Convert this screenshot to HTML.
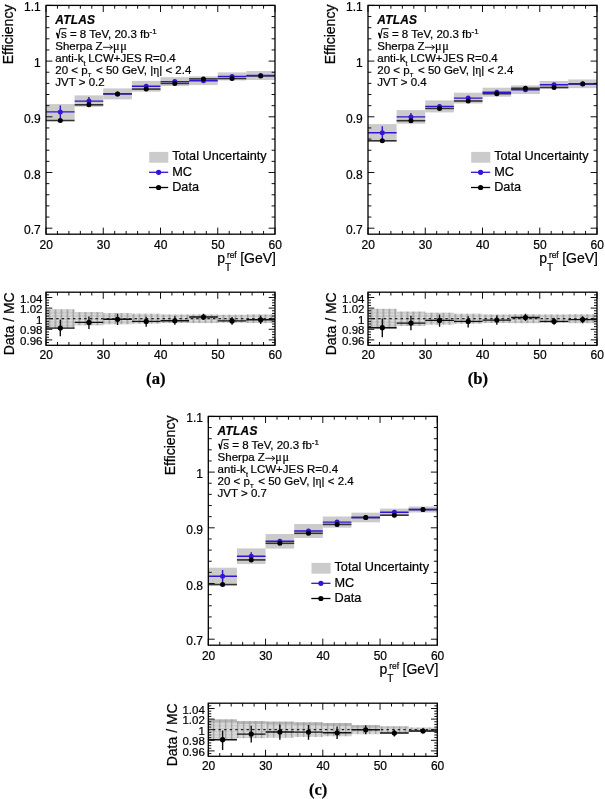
<!DOCTYPE html>
<html><head><meta charset="utf-8"><title>Efficiency</title>
<style>
html,body{margin:0;padding:0;background:#fff;}
body{width:605px;height:799px;overflow:hidden;}
svg{display:block;font-family:"Liberation Sans", sans-serif;filter:blur(0.3px);}
text{stroke:#000;stroke-width:0.22px;}
</style></head><body>
<svg width="605" height="799" viewBox="0 0 605 799" fill="#000">
<defs>
<pattern id="hatchA" patternUnits="userSpaceOnUse" x="0.6" y="0.2" width="6" height="3.2">
<rect width="6" height="3.2" fill="#cacaca"/>
<rect x="0" y="0" width="1.6" height="3.2" fill="#9c9c9c"/>
<rect x="1.6" y="0" width="4.4" height="1" fill="#e0e0e0"/>
</pattern>
<pattern id="hatchB" patternUnits="userSpaceOnUse" x="4.55" y="0.2" width="6" height="3.2">
<rect width="6" height="3.2" fill="#cacaca"/>
<rect x="0" y="0" width="1.6" height="3.2" fill="#9c9c9c"/>
<rect x="1.6" y="0" width="4.4" height="1" fill="#e0e0e0"/>
</pattern>
<pattern id="hatchC" patternUnits="userSpaceOnUse" x="2.9" y="0.6" width="6" height="3">
<rect width="6" height="3" fill="#cdcdcd"/>
<rect x="0" y="0" width="1.5" height="3" fill="#a4a4a4"/>
<rect x="1.5" y="0" width="4.5" height="0.9" fill="#e4e4e4"/>
</pattern>
<pattern id="hatchCtop" patternUnits="userSpaceOnUse" x="2.9" y="0" width="6" height="3">
<rect width="6" height="3" fill="#b4b4b4"/>
<rect x="0" y="0" width="1.5" height="3" fill="#a0a0a0"/>
</pattern>
</defs>
<rect x="46" y="104.1" width="28.62" height="15.6" fill="#cbcbcb"/>
<rect x="74.62" y="95.4" width="28.62" height="11.4" fill="#cbcbcb"/>
<rect x="103.25" y="88.4" width="28.62" height="11" fill="#cbcbcb"/>
<rect x="131.88" y="80.9" width="28.62" height="10.8" fill="#cbcbcb"/>
<rect x="160.5" y="77.2" width="28.62" height="8.8" fill="#cbcbcb"/>
<rect x="189.12" y="76.3" width="28.62" height="8.8" fill="#cbcbcb"/>
<rect x="217.75" y="72.4" width="28.62" height="8" fill="#cbcbcb"/>
<rect x="246.38" y="71" width="28.62" height="9" fill="#cbcbcb"/>
<path d="M46 120.5H74.62" stroke="#333" stroke-width="1.6"/>
<path d="M46 111.9H74.62M60.31 105.4V118.4" stroke="#3812d4" stroke-width="1.4"/>
<circle cx="60.31" cy="111.9" r="2.5" fill="#3812d4"/>
<circle cx="60.31" cy="120.5" r="2.5" fill="#000"/>
<path d="M74.62 104.8H103.25" stroke="#333" stroke-width="1.6"/>
<path d="M74.62 101.1H103.25M88.94 97.1V105.1" stroke="#3812d4" stroke-width="1.4"/>
<circle cx="88.94" cy="101.1" r="2.5" fill="#3812d4"/>
<circle cx="88.94" cy="104.8" r="2.5" fill="#000"/>
<path d="M103.25 93.9H131.88" stroke="#333" stroke-width="1.6"/>
<path d="M103.25 93.9H131.88M117.56 91.9V95.9" stroke="#3812d4" stroke-width="1.4"/>
<circle cx="117.56" cy="93.9" r="2.5" fill="#3812d4"/>
<circle cx="117.56" cy="93.9" r="2.5" fill="#000"/>
<path d="M131.88 89.1H160.5" stroke="#333" stroke-width="1.6"/>
<path d="M131.88 86.3H160.5M146.19 84.8V87.8" stroke="#3812d4" stroke-width="1.4"/>
<circle cx="146.19" cy="86.3" r="2.5" fill="#3812d4"/>
<circle cx="146.19" cy="89.1" r="2.5" fill="#000"/>
<path d="M160.5 83.4H189.12" stroke="#333" stroke-width="1.6"/>
<path d="M160.5 81.6H189.12M174.81 80.6V82.6" stroke="#3812d4" stroke-width="1.4"/>
<circle cx="174.81" cy="81.6" r="2.5" fill="#3812d4"/>
<circle cx="174.81" cy="83.4" r="2.5" fill="#000"/>
<path d="M189.12 78.9H217.75" stroke="#333" stroke-width="1.6"/>
<path d="M189.12 80.7H217.75M203.44 79.7V81.7" stroke="#3812d4" stroke-width="1.4"/>
<circle cx="203.44" cy="80.7" r="2.5" fill="#3812d4"/>
<circle cx="203.44" cy="78.9" r="2.5" fill="#000"/>
<path d="M217.75 78.5H246.38" stroke="#333" stroke-width="1.6"/>
<path d="M217.75 76.4H246.38M232.06 75.4V77.4" stroke="#3812d4" stroke-width="1.4"/>
<circle cx="232.06" cy="76.4" r="2.5" fill="#3812d4"/>
<circle cx="232.06" cy="78.5" r="2.5" fill="#000"/>
<path d="M246.38 75.9H275" stroke="#333" stroke-width="1.6"/>
<path d="M246.38 75.5H275M260.69 74.5V76.5" stroke="#3812d4" stroke-width="1.4"/>
<circle cx="260.69" cy="75.5" r="2.5" fill="#3812d4"/>
<circle cx="260.69" cy="75.9" r="2.5" fill="#000"/>
<rect x="46" y="309.3" width="28.62" height="18.8" fill="url(#hatchA)"/>
<rect x="74.62" y="312.1" width="28.62" height="13.2" fill="url(#hatchA)"/>
<rect x="103.25" y="313.1" width="28.62" height="11.2" fill="url(#hatchA)"/>
<rect x="131.88" y="313.7" width="28.62" height="10" fill="url(#hatchA)"/>
<rect x="160.5" y="314.4" width="28.62" height="8.6" fill="url(#hatchA)"/>
<rect x="189.12" y="314.35" width="28.62" height="8.7" fill="url(#hatchA)"/>
<rect x="217.75" y="314.7" width="28.62" height="8" fill="url(#hatchA)"/>
<rect x="246.38" y="314.35" width="28.62" height="8.7" fill="url(#hatchA)"/>
<path d="M46 318.7H275" stroke="#222" stroke-width="1.2" stroke-dasharray="2.4 3.2" stroke-dashoffset="1"/>
<path d="M46 328.1H74.62M60.31 319.8V336.3" stroke="#111" stroke-width="1.4"/>
<circle cx="60.31" cy="328.1" r="2.6" fill="#000"/>
<path d="M74.62 322.4H103.25M88.94 316.5V329" stroke="#111" stroke-width="1.4"/>
<circle cx="88.94" cy="322.4" r="2.6" fill="#000"/>
<path d="M103.25 319.3H131.88M117.56 313.8V325" stroke="#111" stroke-width="1.4"/>
<circle cx="117.56" cy="319.3" r="2.6" fill="#000"/>
<path d="M131.88 321.4H160.5M146.19 316.8V326.7" stroke="#111" stroke-width="1.4"/>
<circle cx="146.19" cy="321.4" r="2.6" fill="#000"/>
<path d="M160.5 320.8H189.12M174.81 316.2V324.8" stroke="#111" stroke-width="1.4"/>
<circle cx="174.81" cy="320.8" r="2.6" fill="#000"/>
<path d="M189.12 317H217.75M203.44 313.8V320.1" stroke="#111" stroke-width="1.4"/>
<circle cx="203.44" cy="317" r="2.6" fill="#000"/>
<path d="M217.75 320.9H246.38M232.06 317V324.8" stroke="#111" stroke-width="1.4"/>
<circle cx="232.06" cy="320.9" r="2.6" fill="#000"/>
<path d="M246.38 319.8H275M260.69 315.4V324" stroke="#111" stroke-width="1.4"/>
<circle cx="260.69" cy="319.8" r="2.6" fill="#000"/>
<path d="M46 228.2h6.4 M275 228.2h-6.4 M46 217.06h3.4 M275 217.06h-3.4 M46 205.92h3.4 M275 205.92h-3.4 M46 194.78h3.4 M275 194.78h-3.4 M46 183.64h3.4 M275 183.64h-3.4 M46 172.5h6.4 M275 172.5h-6.4 M46 161.36h3.4 M275 161.36h-3.4 M46 150.22h3.4 M275 150.22h-3.4 M46 139.08h3.4 M275 139.08h-3.4 M46 127.94h3.4 M275 127.94h-3.4 M46 116.8h6.4 M275 116.8h-6.4 M46 105.66h3.4 M275 105.66h-3.4 M46 94.52h3.4 M275 94.52h-3.4 M46 83.38h3.4 M275 83.38h-3.4 M46 72.24h3.4 M275 72.24h-3.4 M46 61.1h6.4 M275 61.1h-6.4 M46 49.96h3.4 M275 49.96h-3.4 M46 38.82h3.4 M275 38.82h-3.4 M46 27.68h3.4 M275 27.68h-3.4 M46 16.54h3.4 M275 16.54h-3.4 M46 5.4h6.4 M275 5.4h-6.4 M46 234.2v-6.6 M46 5.4v6.6 M57.45 234.2v-3.3 M57.45 5.4v3.3 M68.9 234.2v-3.3 M68.9 5.4v3.3 M80.35 234.2v-3.3 M80.35 5.4v3.3 M91.8 234.2v-3.3 M91.8 5.4v3.3 M103.25 234.2v-6.6 M103.25 5.4v6.6 M114.7 234.2v-3.3 M114.7 5.4v3.3 M126.15 234.2v-3.3 M126.15 5.4v3.3 M137.6 234.2v-3.3 M137.6 5.4v3.3 M149.05 234.2v-3.3 M149.05 5.4v3.3 M160.5 234.2v-6.6 M160.5 5.4v6.6 M171.95 234.2v-3.3 M171.95 5.4v3.3 M183.4 234.2v-3.3 M183.4 5.4v3.3 M194.85 234.2v-3.3 M194.85 5.4v3.3 M206.3 234.2v-3.3 M206.3 5.4v3.3 M217.75 234.2v-6.6 M217.75 5.4v6.6 M229.2 234.2v-3.3 M229.2 5.4v3.3 M240.65 234.2v-3.3 M240.65 5.4v3.3 M252.1 234.2v-3.3 M252.1 5.4v3.3 M263.55 234.2v-3.3 M263.55 5.4v3.3 M275 234.2v-6.6 M275 5.4v6.6" stroke="#111" stroke-width="1.0" fill="none"/>
<rect x="46" y="5.4" width="229" height="228.8" fill="none" stroke="#000" stroke-width="1.3"/>
<path d="M46 342.55h3 M275 342.55h-3 M46 339.9h6.3 M275 339.9h-6.3 M46 337.25h3 M275 337.25h-3 M46 334.6h3 M275 334.6h-3 M46 331.95h3 M275 331.95h-3 M46 329.3h6.3 M275 329.3h-6.3 M46 326.65h3 M275 326.65h-3 M46 324h3 M275 324h-3 M46 321.35h3 M275 321.35h-3 M46 318.7h6.3 M275 318.7h-6.3 M46 316.05h3 M275 316.05h-3 M46 313.4h3 M275 313.4h-3 M46 310.75h3 M275 310.75h-3 M46 308.1h6.3 M275 308.1h-6.3 M46 305.45h3 M275 305.45h-3 M46 302.8h3 M275 302.8h-3 M46 300.15h3 M275 300.15h-3 M46 297.5h6.3 M275 297.5h-6.3 M46 294.85h3 M275 294.85h-3 M46 345.3v-6.6 M46 292.2v6.6 M57.45 345.3v-3.3 M57.45 292.2v3.3 M68.9 345.3v-3.3 M68.9 292.2v3.3 M80.35 345.3v-3.3 M80.35 292.2v3.3 M91.8 345.3v-3.3 M91.8 292.2v3.3 M103.25 345.3v-6.6 M103.25 292.2v6.6 M114.7 345.3v-3.3 M114.7 292.2v3.3 M126.15 345.3v-3.3 M126.15 292.2v3.3 M137.6 345.3v-3.3 M137.6 292.2v3.3 M149.05 345.3v-3.3 M149.05 292.2v3.3 M160.5 345.3v-6.6 M160.5 292.2v6.6 M171.95 345.3v-3.3 M171.95 292.2v3.3 M183.4 345.3v-3.3 M183.4 292.2v3.3 M194.85 345.3v-3.3 M194.85 292.2v3.3 M206.3 345.3v-3.3 M206.3 292.2v3.3 M217.75 345.3v-6.6 M217.75 292.2v6.6 M229.2 345.3v-3.3 M229.2 292.2v3.3 M240.65 345.3v-3.3 M240.65 292.2v3.3 M252.1 345.3v-3.3 M252.1 292.2v3.3 M263.55 345.3v-3.3 M263.55 292.2v3.3 M275 345.3v-6.6 M275 292.2v6.6" stroke="#111" stroke-width="1.0" fill="none"/>
<rect x="46" y="292.2" width="229" height="53.1" fill="none" stroke="#000" stroke-width="1.3"/>
<text x="40.7" y="11.4" font-size="12" text-anchor="end">1.1</text>
<text x="40.7" y="67.1" font-size="12" text-anchor="end">1</text>
<text x="40.7" y="122.8" font-size="12" text-anchor="end">0.9</text>
<text x="40.7" y="178.5" font-size="12" text-anchor="end">0.8</text>
<text x="40.7" y="234.2" font-size="12" text-anchor="end">0.7</text>
<text x="46.3" y="248.7" font-size="12" text-anchor="middle">20</text>
<text x="103.55" y="248.7" font-size="12" text-anchor="middle">30</text>
<text x="160.8" y="248.7" font-size="12" text-anchor="middle">40</text>
<text x="218.05" y="248.7" font-size="12" text-anchor="middle">50</text>
<text x="275.3" y="248.7" font-size="12" text-anchor="middle">60</text>
<text x="42.5" y="302.5" font-size="11.5" text-anchor="end">1.04</text>
<text x="42.5" y="313.1" font-size="11.5" text-anchor="end">1.02</text>
<text x="42.5" y="323.7" font-size="11.5" text-anchor="end">1</text>
<text x="42.5" y="334.3" font-size="11.5" text-anchor="end">0.98</text>
<text x="42.5" y="344.9" font-size="11.5" text-anchor="end">0.96</text>
<text x="46.3" y="359.4" font-size="12" text-anchor="middle">20</text>
<text x="103.55" y="359.4" font-size="12" text-anchor="middle">30</text>
<text x="160.8" y="359.4" font-size="12" text-anchor="middle">40</text>
<text x="218.05" y="359.4" font-size="12" text-anchor="middle">50</text>
<text x="275.3" y="359.4" font-size="12" text-anchor="middle">60</text>
<text transform="translate(12.8 4.6) rotate(-90)" font-size="14" text-anchor="end">Efficiency</text>
<text transform="translate(14.4 292.3) rotate(-90)" font-size="14" text-anchor="end">Data / MC</text>
<text x="217.3" y="263.2" font-size="14">p</text>
<text x="226.9" y="257.7" font-size="8.4">ref</text>
<text x="225" y="271.4" font-size="10">T</text>
<text x="276" y="263.4" font-size="14" text-anchor="end">[GeV]</text>
<text x="55.3" y="23.5" font-size="11.9" font-weight="bold" font-style="italic" letter-spacing="0.25">ATLAS</text>
<path d="M56.5 32.6L58.2 38.3L60.1 28.7H66.6" stroke="#000" stroke-width="1.0" fill="none" stroke-linejoin="miter"/>
<path d="M56.9 33L58.3 38" stroke="#000" stroke-width="1.5" fill="none"/>
<text x="61" y="38.2" font-size="11.5">s = 8 TeV, 20.3 fb<tspan dy="-4.6" font-size="8">-1</tspan></text>
<text x="55.3" y="50.1" font-size="11.5">Sherpa Z</text>
<path d="M103 47.3H112.2" stroke="#000" stroke-width="0.9"/>
<path d="M109.6 45L112.6 47.3L109.6 49.6" stroke="#000" stroke-width="0.9" fill="none"/>
<text x="113" y="50.2" font-size="12.2" letter-spacing="0.6" font-family='"Liberation Serif", serif'>μμ</text>
<text x="55.3" y="62.2" font-size="11.5">anti-k</text>
<text x="83.6" y="66" font-size="7">t</text>
<text x="88.2" y="62.2" font-size="11.5">LCW+JES R=0.4</text>
<text x="55.3" y="74.2" font-size="11.5">20 &lt; p</text>
<text x="87.8" y="77" font-size="6">T</text>
<text x="96" y="74.2" font-size="11.5">&lt; 50 GeV, |<tspan font-family='"Liberation Serif", serif'>η</tspan>| &lt; 2.4</text>
<text x="55.3" y="86" font-size="11.5">JVT &gt; 0.2</text>
<rect x="149.2" y="151.9" width="19.1" height="10.8" fill="#cbcbcb"/>
<text x="172.2" y="160.2" font-size="12.7">Total Uncertainty</text>
<path d="M149 172.3h19.2" stroke="#3812d4" stroke-width="1.3"/>
<circle cx="158.6" cy="172.3" r="2.6" fill="#3812d4"/>
<text x="172.2" y="175.5" font-size="12.7">MC</text>
<path d="M149 187.5h19.2" stroke="#000" stroke-width="1.3"/>
<circle cx="158.6" cy="187.5" r="2.6" fill="#000"/>
<text x="172.2" y="190.7" font-size="12.7">Data</text>
<text x="155.8" y="384.4" font-size="16.6" font-weight="bold" text-anchor="middle" font-family='"Liberation Serif", serif'>(a)</text>
<rect x="368" y="124.1" width="28.62" height="17.2" fill="#cbcbcb"/>
<rect x="396.62" y="110.1" width="28.62" height="13.6" fill="#cbcbcb"/>
<rect x="425.25" y="100.4" width="28.62" height="12" fill="#cbcbcb"/>
<rect x="453.88" y="92.7" width="28.62" height="10.8" fill="#cbcbcb"/>
<rect x="482.5" y="87.7" width="28.62" height="9" fill="#cbcbcb"/>
<rect x="511.12" y="85.35" width="28.62" height="8.7" fill="#cbcbcb"/>
<rect x="539.75" y="81" width="28.62" height="7.6" fill="#cbcbcb"/>
<rect x="568.38" y="79.45" width="28.62" height="8.7" fill="#cbcbcb"/>
<path d="M368 140.8H396.62" stroke="#333" stroke-width="1.6"/>
<path d="M368 132.7H396.62M382.31 126.2V139.2" stroke="#3812d4" stroke-width="1.4"/>
<circle cx="382.31" cy="132.7" r="2.5" fill="#3812d4"/>
<circle cx="382.31" cy="140.8" r="2.5" fill="#000"/>
<path d="M396.62 120.7H425.25" stroke="#333" stroke-width="1.6"/>
<path d="M396.62 116.9H425.25M410.94 112.9V120.9" stroke="#3812d4" stroke-width="1.4"/>
<circle cx="410.94" cy="116.9" r="2.5" fill="#3812d4"/>
<circle cx="410.94" cy="120.7" r="2.5" fill="#000"/>
<path d="M425.25 108.4H453.88" stroke="#333" stroke-width="1.6"/>
<path d="M425.25 106.4H453.88M439.56 104.4V108.4" stroke="#3812d4" stroke-width="1.4"/>
<circle cx="439.56" cy="106.4" r="2.5" fill="#3812d4"/>
<circle cx="439.56" cy="108.4" r="2.5" fill="#000"/>
<path d="M453.88 101H482.5" stroke="#333" stroke-width="1.6"/>
<path d="M453.88 98.1H482.5M468.19 96.6V99.6" stroke="#3812d4" stroke-width="1.4"/>
<circle cx="468.19" cy="98.1" r="2.5" fill="#3812d4"/>
<circle cx="468.19" cy="101" r="2.5" fill="#000"/>
<path d="M482.5 93.7H511.12" stroke="#333" stroke-width="1.6"/>
<path d="M482.5 92.2H511.12M496.81 91.2V93.2" stroke="#3812d4" stroke-width="1.4"/>
<circle cx="496.81" cy="92.2" r="2.5" fill="#3812d4"/>
<circle cx="496.81" cy="93.7" r="2.5" fill="#000"/>
<path d="M511.12 88.3H539.75" stroke="#333" stroke-width="1.6"/>
<path d="M511.12 89.7H539.75M525.44 88.7V90.7" stroke="#3812d4" stroke-width="1.4"/>
<circle cx="525.44" cy="89.7" r="2.5" fill="#3812d4"/>
<circle cx="525.44" cy="88.3" r="2.5" fill="#000"/>
<path d="M539.75 87.5H568.38" stroke="#333" stroke-width="1.6"/>
<path d="M539.75 84.8H568.38M554.06 83.8V85.8" stroke="#3812d4" stroke-width="1.4"/>
<circle cx="554.06" cy="84.8" r="2.5" fill="#3812d4"/>
<circle cx="554.06" cy="87.5" r="2.5" fill="#000"/>
<path d="M568.38 84.1H597" stroke="#333" stroke-width="1.6"/>
<path d="M568.38 83.8H597M582.69 82.8V84.8" stroke="#3812d4" stroke-width="1.4"/>
<circle cx="582.69" cy="83.8" r="2.5" fill="#3812d4"/>
<circle cx="582.69" cy="84.1" r="2.5" fill="#000"/>
<rect x="368" y="308.8" width="28.62" height="19.8" fill="url(#hatchB)"/>
<rect x="396.62" y="311.5" width="28.62" height="14.4" fill="url(#hatchB)"/>
<rect x="425.25" y="312.7" width="28.62" height="12" fill="url(#hatchB)"/>
<rect x="453.88" y="313.7" width="28.62" height="10" fill="url(#hatchB)"/>
<rect x="482.5" y="314.4" width="28.62" height="8.6" fill="url(#hatchB)"/>
<rect x="511.12" y="314.2" width="28.62" height="9" fill="url(#hatchB)"/>
<rect x="539.75" y="314.4" width="28.62" height="8.6" fill="url(#hatchB)"/>
<rect x="568.38" y="314.2" width="28.62" height="9" fill="url(#hatchB)"/>
<path d="M368 318.7H597" stroke="#222" stroke-width="1.2" stroke-dasharray="2.4 3.2" stroke-dashoffset="1"/>
<path d="M368 327.7H396.62M382.31 318.4V337.3" stroke="#111" stroke-width="1.4"/>
<circle cx="382.31" cy="327.7" r="2.6" fill="#000"/>
<path d="M396.62 323.1H425.25M410.94 315.8V330.3" stroke="#111" stroke-width="1.4"/>
<circle cx="410.94" cy="323.1" r="2.6" fill="#000"/>
<path d="M425.25 320.4H453.88M439.56 314.5V326.8" stroke="#111" stroke-width="1.4"/>
<circle cx="439.56" cy="320.4" r="2.6" fill="#000"/>
<path d="M453.88 321.4H482.5M468.19 316.2V327.4" stroke="#111" stroke-width="1.4"/>
<circle cx="468.19" cy="321.4" r="2.6" fill="#000"/>
<path d="M482.5 320.1H511.12M496.81 315.5V324.8" stroke="#111" stroke-width="1.4"/>
<circle cx="496.81" cy="320.1" r="2.6" fill="#000"/>
<path d="M511.12 317.5H539.75M525.44 313.8V320.9" stroke="#111" stroke-width="1.4"/>
<circle cx="525.44" cy="317.5" r="2.6" fill="#000"/>
<path d="M539.75 321.4H568.38M554.06 317.8V324.8" stroke="#111" stroke-width="1.4"/>
<circle cx="554.06" cy="321.4" r="2.6" fill="#000"/>
<path d="M568.38 319.6H597M582.69 316.2V323.3" stroke="#111" stroke-width="1.4"/>
<circle cx="582.69" cy="319.6" r="2.6" fill="#000"/>
<path d="M368 228.2h6.4 M597 228.2h-6.4 M368 217.06h3.4 M597 217.06h-3.4 M368 205.92h3.4 M597 205.92h-3.4 M368 194.78h3.4 M597 194.78h-3.4 M368 183.64h3.4 M597 183.64h-3.4 M368 172.5h6.4 M597 172.5h-6.4 M368 161.36h3.4 M597 161.36h-3.4 M368 150.22h3.4 M597 150.22h-3.4 M368 139.08h3.4 M597 139.08h-3.4 M368 127.94h3.4 M597 127.94h-3.4 M368 116.8h6.4 M597 116.8h-6.4 M368 105.66h3.4 M597 105.66h-3.4 M368 94.52h3.4 M597 94.52h-3.4 M368 83.38h3.4 M597 83.38h-3.4 M368 72.24h3.4 M597 72.24h-3.4 M368 61.1h6.4 M597 61.1h-6.4 M368 49.96h3.4 M597 49.96h-3.4 M368 38.82h3.4 M597 38.82h-3.4 M368 27.68h3.4 M597 27.68h-3.4 M368 16.54h3.4 M597 16.54h-3.4 M368 5.4h6.4 M597 5.4h-6.4 M368 234.2v-6.6 M368 5.4v6.6 M379.45 234.2v-3.3 M379.45 5.4v3.3 M390.9 234.2v-3.3 M390.9 5.4v3.3 M402.35 234.2v-3.3 M402.35 5.4v3.3 M413.8 234.2v-3.3 M413.8 5.4v3.3 M425.25 234.2v-6.6 M425.25 5.4v6.6 M436.7 234.2v-3.3 M436.7 5.4v3.3 M448.15 234.2v-3.3 M448.15 5.4v3.3 M459.6 234.2v-3.3 M459.6 5.4v3.3 M471.05 234.2v-3.3 M471.05 5.4v3.3 M482.5 234.2v-6.6 M482.5 5.4v6.6 M493.95 234.2v-3.3 M493.95 5.4v3.3 M505.4 234.2v-3.3 M505.4 5.4v3.3 M516.85 234.2v-3.3 M516.85 5.4v3.3 M528.3 234.2v-3.3 M528.3 5.4v3.3 M539.75 234.2v-6.6 M539.75 5.4v6.6 M551.2 234.2v-3.3 M551.2 5.4v3.3 M562.65 234.2v-3.3 M562.65 5.4v3.3 M574.1 234.2v-3.3 M574.1 5.4v3.3 M585.55 234.2v-3.3 M585.55 5.4v3.3 M597 234.2v-6.6 M597 5.4v6.6" stroke="#111" stroke-width="1.0" fill="none"/>
<rect x="368" y="5.4" width="229" height="228.8" fill="none" stroke="#000" stroke-width="1.3"/>
<path d="M368 342.55h3 M597 342.55h-3 M368 339.9h6.3 M597 339.9h-6.3 M368 337.25h3 M597 337.25h-3 M368 334.6h3 M597 334.6h-3 M368 331.95h3 M597 331.95h-3 M368 329.3h6.3 M597 329.3h-6.3 M368 326.65h3 M597 326.65h-3 M368 324h3 M597 324h-3 M368 321.35h3 M597 321.35h-3 M368 318.7h6.3 M597 318.7h-6.3 M368 316.05h3 M597 316.05h-3 M368 313.4h3 M597 313.4h-3 M368 310.75h3 M597 310.75h-3 M368 308.1h6.3 M597 308.1h-6.3 M368 305.45h3 M597 305.45h-3 M368 302.8h3 M597 302.8h-3 M368 300.15h3 M597 300.15h-3 M368 297.5h6.3 M597 297.5h-6.3 M368 294.85h3 M597 294.85h-3 M368 345.3v-6.6 M368 292.2v6.6 M379.45 345.3v-3.3 M379.45 292.2v3.3 M390.9 345.3v-3.3 M390.9 292.2v3.3 M402.35 345.3v-3.3 M402.35 292.2v3.3 M413.8 345.3v-3.3 M413.8 292.2v3.3 M425.25 345.3v-6.6 M425.25 292.2v6.6 M436.7 345.3v-3.3 M436.7 292.2v3.3 M448.15 345.3v-3.3 M448.15 292.2v3.3 M459.6 345.3v-3.3 M459.6 292.2v3.3 M471.05 345.3v-3.3 M471.05 292.2v3.3 M482.5 345.3v-6.6 M482.5 292.2v6.6 M493.95 345.3v-3.3 M493.95 292.2v3.3 M505.4 345.3v-3.3 M505.4 292.2v3.3 M516.85 345.3v-3.3 M516.85 292.2v3.3 M528.3 345.3v-3.3 M528.3 292.2v3.3 M539.75 345.3v-6.6 M539.75 292.2v6.6 M551.2 345.3v-3.3 M551.2 292.2v3.3 M562.65 345.3v-3.3 M562.65 292.2v3.3 M574.1 345.3v-3.3 M574.1 292.2v3.3 M585.55 345.3v-3.3 M585.55 292.2v3.3 M597 345.3v-6.6 M597 292.2v6.6" stroke="#111" stroke-width="1.0" fill="none"/>
<rect x="368" y="292.2" width="229" height="53.1" fill="none" stroke="#000" stroke-width="1.3"/>
<text x="362.7" y="11.4" font-size="12" text-anchor="end">1.1</text>
<text x="362.7" y="67.1" font-size="12" text-anchor="end">1</text>
<text x="362.7" y="122.8" font-size="12" text-anchor="end">0.9</text>
<text x="362.7" y="178.5" font-size="12" text-anchor="end">0.8</text>
<text x="362.7" y="234.2" font-size="12" text-anchor="end">0.7</text>
<text x="368.3" y="248.7" font-size="12" text-anchor="middle">20</text>
<text x="425.55" y="248.7" font-size="12" text-anchor="middle">30</text>
<text x="482.8" y="248.7" font-size="12" text-anchor="middle">40</text>
<text x="540.05" y="248.7" font-size="12" text-anchor="middle">50</text>
<text x="597.3" y="248.7" font-size="12" text-anchor="middle">60</text>
<text x="364.5" y="302.5" font-size="11.5" text-anchor="end">1.04</text>
<text x="364.5" y="313.1" font-size="11.5" text-anchor="end">1.02</text>
<text x="364.5" y="323.7" font-size="11.5" text-anchor="end">1</text>
<text x="364.5" y="334.3" font-size="11.5" text-anchor="end">0.98</text>
<text x="364.5" y="344.9" font-size="11.5" text-anchor="end">0.96</text>
<text x="368.3" y="359.4" font-size="12" text-anchor="middle">20</text>
<text x="425.55" y="359.4" font-size="12" text-anchor="middle">30</text>
<text x="482.8" y="359.4" font-size="12" text-anchor="middle">40</text>
<text x="540.05" y="359.4" font-size="12" text-anchor="middle">50</text>
<text x="597.3" y="359.4" font-size="12" text-anchor="middle">60</text>
<text transform="translate(334.8 4.6) rotate(-90)" font-size="14" text-anchor="end">Efficiency</text>
<text transform="translate(336.4 292.3) rotate(-90)" font-size="14" text-anchor="end">Data / MC</text>
<text x="539.3" y="263.2" font-size="14">p</text>
<text x="548.9" y="257.7" font-size="8.4">ref</text>
<text x="547" y="271.4" font-size="10">T</text>
<text x="598" y="263.4" font-size="14" text-anchor="end">[GeV]</text>
<text x="377.3" y="23.5" font-size="11.9" font-weight="bold" font-style="italic" letter-spacing="0.25">ATLAS</text>
<path d="M378.5 32.6L380.2 38.3L382.1 28.7H388.6" stroke="#000" stroke-width="1.0" fill="none" stroke-linejoin="miter"/>
<path d="M378.9 33L380.3 38" stroke="#000" stroke-width="1.5" fill="none"/>
<text x="383" y="38.2" font-size="11.5">s = 8 TeV, 20.3 fb<tspan dy="-4.6" font-size="8">-1</tspan></text>
<text x="377.3" y="50.1" font-size="11.5">Sherpa Z</text>
<path d="M425 47.3H434.2" stroke="#000" stroke-width="0.9"/>
<path d="M431.6 45L434.6 47.3L431.6 49.6" stroke="#000" stroke-width="0.9" fill="none"/>
<text x="435" y="50.2" font-size="12.2" letter-spacing="0.6" font-family='"Liberation Serif", serif'>μμ</text>
<text x="377.3" y="62.2" font-size="11.5">anti-k</text>
<text x="405.6" y="66" font-size="7">t</text>
<text x="410.2" y="62.2" font-size="11.5">LCW+JES R=0.4</text>
<text x="377.3" y="74.2" font-size="11.5">20 &lt; p</text>
<text x="409.8" y="77" font-size="6">T</text>
<text x="418" y="74.2" font-size="11.5">&lt; 50 GeV, |<tspan font-family='"Liberation Serif", serif'>η</tspan>| &lt; 2.4</text>
<text x="377.3" y="86" font-size="11.5">JVT &gt; 0.4</text>
<rect x="471.2" y="151.9" width="19.1" height="10.8" fill="#cbcbcb"/>
<text x="494.2" y="160.2" font-size="12.7">Total Uncertainty</text>
<path d="M471 172.3h19.2" stroke="#3812d4" stroke-width="1.3"/>
<circle cx="480.6" cy="172.3" r="2.6" fill="#3812d4"/>
<text x="494.2" y="175.5" font-size="12.7">MC</text>
<path d="M471 187.5h19.2" stroke="#000" stroke-width="1.3"/>
<circle cx="480.6" cy="187.5" r="2.6" fill="#000"/>
<text x="494.2" y="190.7" font-size="12.7">Data</text>
<text x="477.8" y="384.4" font-size="16.6" font-weight="bold" text-anchor="middle" font-family='"Liberation Serif", serif'>(b)</text>
<rect x="208.3" y="567.7" width="28.62" height="17.2" fill="#cbcbcb"/>
<rect x="236.93" y="548.4" width="28.62" height="15.6" fill="#cbcbcb"/>
<rect x="265.55" y="534" width="28.62" height="14.6" fill="#cbcbcb"/>
<rect x="294.18" y="524.05" width="28.62" height="13.9" fill="#cbcbcb"/>
<rect x="322.8" y="516.5" width="28.62" height="11.2" fill="#cbcbcb"/>
<rect x="351.43" y="512.65" width="28.62" height="9.7" fill="#cbcbcb"/>
<rect x="380.05" y="508.6" width="28.62" height="7.2" fill="#cbcbcb"/>
<rect x="408.68" y="506.5" width="28.62" height="6" fill="#cbcbcb"/>
<path d="M208.3 584.6H236.93" stroke="#333" stroke-width="1.6"/>
<path d="M208.3 576.3H236.93M222.61 570V582.6" stroke="#3812d4" stroke-width="1.4"/>
<circle cx="222.61" cy="576.3" r="2.5" fill="#3812d4"/>
<circle cx="222.61" cy="584.6" r="2.5" fill="#000"/>
<path d="M236.93 559.9H265.55" stroke="#333" stroke-width="1.6"/>
<path d="M236.93 556.2H265.55M251.24 552.2V560.2" stroke="#3812d4" stroke-width="1.4"/>
<circle cx="251.24" cy="556.2" r="2.5" fill="#3812d4"/>
<circle cx="251.24" cy="559.9" r="2.5" fill="#000"/>
<path d="M265.55 543.3H294.18" stroke="#333" stroke-width="1.6"/>
<path d="M265.55 541.3H294.18M279.86 539.3V543.3" stroke="#3812d4" stroke-width="1.4"/>
<circle cx="279.86" cy="541.3" r="2.5" fill="#3812d4"/>
<circle cx="279.86" cy="543.3" r="2.5" fill="#000"/>
<path d="M294.18 533.3H322.8" stroke="#333" stroke-width="1.6"/>
<path d="M294.18 531H322.8M308.49 529.5V532.5" stroke="#3812d4" stroke-width="1.4"/>
<circle cx="308.49" cy="531" r="2.5" fill="#3812d4"/>
<circle cx="308.49" cy="533.3" r="2.5" fill="#000"/>
<path d="M322.8 524.4H351.43" stroke="#333" stroke-width="1.6"/>
<path d="M322.8 522.1H351.43M337.11 521.1V523.1" stroke="#3812d4" stroke-width="1.4"/>
<circle cx="337.11" cy="522.1" r="2.5" fill="#3812d4"/>
<circle cx="337.11" cy="524.4" r="2.5" fill="#000"/>
<path d="M351.43 517.5H380.05" stroke="#333" stroke-width="1.6"/>
<path d="M351.43 517.5H380.05M365.74 516.5V518.5" stroke="#3812d4" stroke-width="1.4"/>
<circle cx="365.74" cy="517.5" r="2.5" fill="#3812d4"/>
<circle cx="365.74" cy="517.5" r="2.5" fill="#000"/>
<path d="M380.05 515.2H408.68" stroke="#333" stroke-width="1.6"/>
<path d="M380.05 512.2H408.68M394.36 511.2V513.2" stroke="#3812d4" stroke-width="1.4"/>
<circle cx="394.36" cy="512.2" r="2.5" fill="#3812d4"/>
<circle cx="394.36" cy="515.2" r="2.5" fill="#000"/>
<path d="M408.68 509.6H437.3" stroke="#333" stroke-width="1.6"/>
<path d="M408.68 509.5H437.3M422.99 508.5V510.5" stroke="#3812d4" stroke-width="1.4"/>
<circle cx="422.99" cy="509.5" r="2.5" fill="#3812d4"/>
<circle cx="422.99" cy="509.6" r="2.5" fill="#000"/>
<rect x="208.3" y="719.5" width="28.62" height="20.4" fill="url(#hatchC)"/>
<rect x="208.3" y="719.5" width="28.62" height="2.8" fill="url(#hatchCtop)"/>
<rect x="236.93" y="721.2" width="28.62" height="17" fill="url(#hatchC)"/>
<rect x="236.93" y="721.2" width="28.62" height="2.8" fill="url(#hatchCtop)"/>
<rect x="265.55" y="721.7" width="28.62" height="16" fill="url(#hatchC)"/>
<rect x="265.55" y="721.7" width="28.62" height="2.8" fill="url(#hatchCtop)"/>
<rect x="294.18" y="722.4" width="28.62" height="14.6" fill="url(#hatchC)"/>
<rect x="294.18" y="722.4" width="28.62" height="2.8" fill="url(#hatchCtop)"/>
<rect x="322.8" y="723.1" width="28.62" height="13.2" fill="url(#hatchC)"/>
<rect x="322.8" y="723.1" width="28.62" height="2.8" fill="url(#hatchCtop)"/>
<rect x="351.43" y="725.2" width="28.62" height="9" fill="url(#hatchC)"/>
<rect x="351.43" y="725.2" width="28.62" height="2.5" fill="url(#hatchCtop)"/>
<rect x="380.05" y="726.5" width="28.62" height="6.4" fill="url(#hatchC)"/>
<rect x="380.05" y="726.5" width="28.62" height="1.2" fill="url(#hatchCtop)"/>
<rect x="408.68" y="727.4" width="28.62" height="4.6" fill="url(#hatchC)"/>
<path d="M208.3 729.7H437.3" stroke="#222" stroke-width="1.2" stroke-dasharray="2.4 3.2" stroke-dashoffset="1"/>
<path d="M208.3 739.7H236.93M222.61 730.4V750" stroke="#111" stroke-width="1.4"/>
<circle cx="222.61" cy="739.7" r="2.6" fill="#000"/>
<path d="M236.93 734.1H265.55M251.24 725.8V742.6" stroke="#111" stroke-width="1.4"/>
<circle cx="251.24" cy="734.1" r="2.6" fill="#000"/>
<path d="M265.55 732H294.18M279.86 724.5V739.7" stroke="#111" stroke-width="1.4"/>
<circle cx="279.86" cy="732" r="2.6" fill="#000"/>
<path d="M294.18 732.1H322.8M308.49 725.1V739.7" stroke="#111" stroke-width="1.4"/>
<circle cx="308.49" cy="732.1" r="2.6" fill="#000"/>
<path d="M322.8 732.8H351.43M337.11 726.5V739" stroke="#111" stroke-width="1.4"/>
<circle cx="337.11" cy="732.8" r="2.6" fill="#000"/>
<path d="M351.43 729.8H380.05M365.74 725.3V734.2" stroke="#111" stroke-width="1.4"/>
<circle cx="365.74" cy="729.8" r="2.6" fill="#000"/>
<path d="M380.05 733H408.68M394.36 729.8V736.5" stroke="#111" stroke-width="1.4"/>
<circle cx="394.36" cy="733" r="2.6" fill="#000"/>
<path d="M408.68 731H437.3M422.99 728.3V733.5" stroke="#111" stroke-width="1.4"/>
<circle cx="422.99" cy="731" r="2.6" fill="#000"/>
<path d="M208.3 639.2h6.4 M437.3 639.2h-6.4 M208.3 628.06h3.4 M437.3 628.06h-3.4 M208.3 616.92h3.4 M437.3 616.92h-3.4 M208.3 605.78h3.4 M437.3 605.78h-3.4 M208.3 594.64h3.4 M437.3 594.64h-3.4 M208.3 583.5h6.4 M437.3 583.5h-6.4 M208.3 572.36h3.4 M437.3 572.36h-3.4 M208.3 561.22h3.4 M437.3 561.22h-3.4 M208.3 550.08h3.4 M437.3 550.08h-3.4 M208.3 538.94h3.4 M437.3 538.94h-3.4 M208.3 527.8h6.4 M437.3 527.8h-6.4 M208.3 516.66h3.4 M437.3 516.66h-3.4 M208.3 505.52h3.4 M437.3 505.52h-3.4 M208.3 494.38h3.4 M437.3 494.38h-3.4 M208.3 483.24h3.4 M437.3 483.24h-3.4 M208.3 472.1h6.4 M437.3 472.1h-6.4 M208.3 460.96h3.4 M437.3 460.96h-3.4 M208.3 449.82h3.4 M437.3 449.82h-3.4 M208.3 438.68h3.4 M437.3 438.68h-3.4 M208.3 427.54h3.4 M437.3 427.54h-3.4 M208.3 416.4h6.4 M437.3 416.4h-6.4 M208.3 645.2v-6.6 M208.3 416.4v6.6 M219.75 645.2v-3.3 M219.75 416.4v3.3 M231.2 645.2v-3.3 M231.2 416.4v3.3 M242.65 645.2v-3.3 M242.65 416.4v3.3 M254.1 645.2v-3.3 M254.1 416.4v3.3 M265.55 645.2v-6.6 M265.55 416.4v6.6 M277 645.2v-3.3 M277 416.4v3.3 M288.45 645.2v-3.3 M288.45 416.4v3.3 M299.9 645.2v-3.3 M299.9 416.4v3.3 M311.35 645.2v-3.3 M311.35 416.4v3.3 M322.8 645.2v-6.6 M322.8 416.4v6.6 M334.25 645.2v-3.3 M334.25 416.4v3.3 M345.7 645.2v-3.3 M345.7 416.4v3.3 M357.15 645.2v-3.3 M357.15 416.4v3.3 M368.6 645.2v-3.3 M368.6 416.4v3.3 M380.05 645.2v-6.6 M380.05 416.4v6.6 M391.5 645.2v-3.3 M391.5 416.4v3.3 M402.95 645.2v-3.3 M402.95 416.4v3.3 M414.4 645.2v-3.3 M414.4 416.4v3.3 M425.85 645.2v-3.3 M425.85 416.4v3.3 M437.3 645.2v-6.6 M437.3 416.4v6.6" stroke="#111" stroke-width="1.0" fill="none"/>
<rect x="208.3" y="416.4" width="229" height="228.8" fill="none" stroke="#000" stroke-width="1.3"/>
<path d="M208.3 753.55h3 M437.3 753.55h-3 M208.3 750.9h6.3 M437.3 750.9h-6.3 M208.3 748.25h3 M437.3 748.25h-3 M208.3 745.6h3 M437.3 745.6h-3 M208.3 742.95h3 M437.3 742.95h-3 M208.3 740.3h6.3 M437.3 740.3h-6.3 M208.3 737.65h3 M437.3 737.65h-3 M208.3 735h3 M437.3 735h-3 M208.3 732.35h3 M437.3 732.35h-3 M208.3 729.7h6.3 M437.3 729.7h-6.3 M208.3 727.05h3 M437.3 727.05h-3 M208.3 724.4h3 M437.3 724.4h-3 M208.3 721.75h3 M437.3 721.75h-3 M208.3 719.1h6.3 M437.3 719.1h-6.3 M208.3 716.45h3 M437.3 716.45h-3 M208.3 713.8h3 M437.3 713.8h-3 M208.3 711.15h3 M437.3 711.15h-3 M208.3 708.5h6.3 M437.3 708.5h-6.3 M208.3 705.85h3 M437.3 705.85h-3 M208.3 756.3v-6.6 M208.3 703.2v6.6 M219.75 756.3v-3.3 M219.75 703.2v3.3 M231.2 756.3v-3.3 M231.2 703.2v3.3 M242.65 756.3v-3.3 M242.65 703.2v3.3 M254.1 756.3v-3.3 M254.1 703.2v3.3 M265.55 756.3v-6.6 M265.55 703.2v6.6 M277 756.3v-3.3 M277 703.2v3.3 M288.45 756.3v-3.3 M288.45 703.2v3.3 M299.9 756.3v-3.3 M299.9 703.2v3.3 M311.35 756.3v-3.3 M311.35 703.2v3.3 M322.8 756.3v-6.6 M322.8 703.2v6.6 M334.25 756.3v-3.3 M334.25 703.2v3.3 M345.7 756.3v-3.3 M345.7 703.2v3.3 M357.15 756.3v-3.3 M357.15 703.2v3.3 M368.6 756.3v-3.3 M368.6 703.2v3.3 M380.05 756.3v-6.6 M380.05 703.2v6.6 M391.5 756.3v-3.3 M391.5 703.2v3.3 M402.95 756.3v-3.3 M402.95 703.2v3.3 M414.4 756.3v-3.3 M414.4 703.2v3.3 M425.85 756.3v-3.3 M425.85 703.2v3.3 M437.3 756.3v-6.6 M437.3 703.2v6.6" stroke="#111" stroke-width="1.0" fill="none"/>
<rect x="208.3" y="703.2" width="229" height="53.1" fill="none" stroke="#000" stroke-width="1.3"/>
<text x="203" y="422.4" font-size="12" text-anchor="end">1.1</text>
<text x="203" y="478.1" font-size="12" text-anchor="end">1</text>
<text x="203" y="533.8" font-size="12" text-anchor="end">0.9</text>
<text x="203" y="589.5" font-size="12" text-anchor="end">0.8</text>
<text x="203" y="645.2" font-size="12" text-anchor="end">0.7</text>
<text x="208.6" y="659.7" font-size="12" text-anchor="middle">20</text>
<text x="265.85" y="659.7" font-size="12" text-anchor="middle">30</text>
<text x="323.1" y="659.7" font-size="12" text-anchor="middle">40</text>
<text x="380.35" y="659.7" font-size="12" text-anchor="middle">50</text>
<text x="437.6" y="659.7" font-size="12" text-anchor="middle">60</text>
<text x="204.8" y="713.5" font-size="11.5" text-anchor="end">1.04</text>
<text x="204.8" y="724.1" font-size="11.5" text-anchor="end">1.02</text>
<text x="204.8" y="734.7" font-size="11.5" text-anchor="end">1</text>
<text x="204.8" y="745.3" font-size="11.5" text-anchor="end">0.98</text>
<text x="204.8" y="755.9" font-size="11.5" text-anchor="end">0.96</text>
<text x="208.6" y="770.4" font-size="12" text-anchor="middle">20</text>
<text x="265.85" y="770.4" font-size="12" text-anchor="middle">30</text>
<text x="323.1" y="770.4" font-size="12" text-anchor="middle">40</text>
<text x="380.35" y="770.4" font-size="12" text-anchor="middle">50</text>
<text x="437.6" y="770.4" font-size="12" text-anchor="middle">60</text>
<text transform="translate(175.1 415.6) rotate(-90)" font-size="14" text-anchor="end">Efficiency</text>
<text transform="translate(176.7 703.3) rotate(-90)" font-size="14" text-anchor="end">Data / MC</text>
<text x="379.6" y="674.2" font-size="14">p</text>
<text x="389.2" y="668.7" font-size="8.4">ref</text>
<text x="387.3" y="682.4" font-size="10">T</text>
<text x="438.3" y="674.4" font-size="14" text-anchor="end">[GeV]</text>
<text x="217.6" y="434.5" font-size="11.9" font-weight="bold" font-style="italic" letter-spacing="0.25">ATLAS</text>
<path d="M218.8 443.6L220.5 449.3L222.4 439.7H228.9" stroke="#000" stroke-width="1.0" fill="none" stroke-linejoin="miter"/>
<path d="M219.2 444L220.6 449" stroke="#000" stroke-width="1.5" fill="none"/>
<text x="223.3" y="449.2" font-size="11.5">s = 8 TeV, 20.3 fb<tspan dy="-4.6" font-size="8">-1</tspan></text>
<text x="217.6" y="461.1" font-size="11.5">Sherpa Z</text>
<path d="M265.3 458.3H274.5" stroke="#000" stroke-width="0.9"/>
<path d="M271.9 456L274.9 458.3L271.9 460.6" stroke="#000" stroke-width="0.9" fill="none"/>
<text x="275.3" y="461.2" font-size="12.2" letter-spacing="0.6" font-family='"Liberation Serif", serif'>μμ</text>
<text x="217.6" y="473.2" font-size="11.5">anti-k</text>
<text x="245.9" y="477" font-size="7">t</text>
<text x="250.5" y="473.2" font-size="11.5">LCW+JES R=0.4</text>
<text x="217.6" y="485.2" font-size="11.5">20 &lt; p</text>
<text x="250.1" y="488" font-size="6">T</text>
<text x="258.3" y="485.2" font-size="11.5">&lt; 50 GeV, |<tspan font-family='"Liberation Serif", serif'>η</tspan>| &lt; 2.4</text>
<text x="217.6" y="497" font-size="11.5">JVT &gt; 0.7</text>
<rect x="311.5" y="562.9" width="19.1" height="10.8" fill="#cbcbcb"/>
<text x="334.5" y="571.2" font-size="12.7">Total Uncertainty</text>
<path d="M311.3 583.3h19.2" stroke="#3812d4" stroke-width="1.3"/>
<circle cx="320.9" cy="583.3" r="2.6" fill="#3812d4"/>
<text x="334.5" y="586.5" font-size="12.7">MC</text>
<path d="M311.3 598.5h19.2" stroke="#000" stroke-width="1.3"/>
<circle cx="320.9" cy="598.5" r="2.6" fill="#000"/>
<text x="334.5" y="601.7" font-size="12.7">Data</text>
<text x="318.1" y="795.4" font-size="16.6" font-weight="bold" text-anchor="middle" font-family='"Liberation Serif", serif'>(c)</text>
</svg>
</body></html>
